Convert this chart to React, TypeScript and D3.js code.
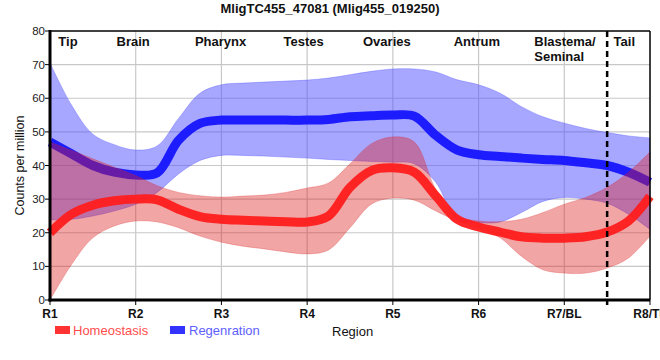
import * as d3 from "d3";

// sample positions along the region axis (0 = R1 ... 7 = R8/TL)
const samplePos = [0, 0.25, 0.5, 0.75, 1, 1.25, 1.5, 1.75, 2, 2.25, 2.5, 2.75, 3, 3.25, 3.5, 3.75, 4, 4.25, 4.5, 4.75, 5, 5.25, 5.5, 5.75, 6, 6.25, 6.5, 6.75, 7];

const regenMean = [47, 43.5, 40, 38, 37.2, 37.8, 47.5, 52.5, 53.5, 53.5, 53.5, 53.5, 53.5, 53.7, 54.5, 54.8, 55, 54.7, 49, 44.6, 43.2, 42.7, 42.2, 41.8, 41.5, 40.8, 40, 38, 35];
const regenUpper = [70.5, 58, 49.3, 46.2, 44.6, 45.8, 54, 61.5, 64, 64.5, 64.8, 65.1, 65.4, 66, 67, 68, 68.7, 68.7, 67.8, 65.5, 64, 61.5, 57.5, 54.5, 52.6, 51, 49.8, 48.8, 48.2];
const regenLower = [23.8, 24, 25, 26.5, 28.5, 32, 37.5, 41.5, 43, 43, 42.8, 42.5, 42.2, 41.8, 41.5, 41.2, 41, 40.5, 35, 24, 23, 23.2, 26, 29.3, 30.5, 30, 28.8, 25.5, 21];

const homeoMean = [20, 25.5, 28.2, 29.5, 30, 29.8, 27, 24.8, 24, 23.7, 23.5, 23.3, 23.2, 25, 33.5, 38.5, 39.3, 38, 31, 24, 21.7, 20.2, 18.8, 18.4, 18.4, 18.8, 20.2, 23.5, 30.8];
const homeoUpper = [47, 44.5, 42, 39.5, 37, 34, 32, 31, 30.6, 30.9, 31.2, 32, 33.3, 34.8, 40.5, 46.5, 48.5, 47, 33, 25, 23.5, 23.3, 24, 26, 28.5, 30.5, 33.5, 38, 44];
const homeoLower = [0, 10.5, 18.5, 22, 23.5, 23.2, 21.5, 19, 17.2, 16, 15.2, 14.3, 13.7, 14.9, 21.5, 28.5, 30.3, 29.7, 26.5, 23.5, 21.4, 18.5, 13, 9, 8, 8, 9.5, 12.5, 19];

const regionTicks = ["R1", "R2", "R3", "R4", "R5", "R6", "R7/BL", "R8/TL"];
const yTicks = [0, 10, 20, 30, 40, 50, 60, 70, 80];
const tissueLabels = [
  { text: ["Tip"], at: 0.21 },
  { text: ["Brain"], at: 0.97 },
  { text: ["Pharynx"], at: 1.99 },
  { text: ["Testes"], at: 2.96 },
  { text: ["Ovaries"], at: 3.93 },
  { text: ["Antrum"], at: 4.98 },
  { text: ["Blastema/", "Seminal"], at: 5.65 },
  { text: ["Tail"], at: 6.7 },
];
const tailBoundary = 6.5;

const W = 660;
const H = 360;
const margin = { top: 31, right: 10, bottom: 60, left: 50 };
const font = "'Liberation Sans', Arial, sans-serif";

export default function App() {
  const x = d3.scaleLinear().domain([0, 7]).range([margin.left, W - margin.right]);
  const y = d3.scaleLinear().domain([0, 80]).range([H - margin.bottom, margin.top]);
  const curve = d3.curveCatmullRom.alpha(0.5);

  const line = d3
    .line<number>()
    .x((_, i) => x(samplePos[i]))
    .y((d) => y(d))
    .curve(curve);

  const band = (lo: number[], hi: number[]) =>
    d3
      .area<number>()
      .x((_, i) => x(samplePos[i]))
      .y0((_, i) => y(lo[i]))
      .y1((_, i) => y(hi[i]))
      .curve(curve)(samplePos);

  const x0 = x(0);
  const x1 = x(7);
  const yBot = y(0);
  const yTop = y(80);

  return (
    <svg width={W} height={H} style={{ position: "absolute", left: 0, top: 0, background: "#fff" }} fontFamily={font}>
      <text x={330} y={13} textAnchor="middle" fontSize={13} fontWeight="bold" fill="#111">
        MligTC455_47081 (Mlig455_019250)
      </text>

      {/* grid */}
      {yTicks.slice(1, -1).map((t) => (
        <line key={"gy" + t} x1={x0} x2={x1} y1={y(t)} y2={y(t)} stroke="#c8c8c8" strokeWidth={1.2} />
      ))}
      {regionTicks.map((_, i) =>
        i > 0 && i < 7 ? (
          <line key={"gx" + i} x1={x(i)} x2={x(i)} y1={yTop} y2={yBot} stroke="#c8c8c8" strokeWidth={1.2} />
        ) : null
      )}

      {/* regeneration */}
      <path d={band(regenLower, regenUpper) ?? ""} fill="rgb(80,80,255)" fillOpacity={0.5} stroke="rgb(80,80,255)" strokeOpacity={0.35} />
      <path d={line(regenMean) ?? ""} fill="none" stroke="#1c1cff" strokeWidth={9} />

      {/* homeostasis */}
      <path d={band(homeoLower, homeoUpper) ?? ""} fill="rgb(220,30,30)" fillOpacity={0.4} stroke="rgb(220,30,30)" strokeOpacity={0.25} />
      <path d={line(homeoMean) ?? ""} fill="none" stroke="#ff1c1c" strokeOpacity={0.95} strokeWidth={9} />

      {/* frame */}
      <line x1={x0} x2={x1} y1={yTop} y2={yTop} stroke="#000" strokeWidth={1.5} />
      <line x1={x1} x2={x1} y1={yTop} y2={yBot} stroke="#000" strokeWidth={1.5} />
      <line x1={x0} x2={x0} y1={yTop - 1} y2={yBot + 1.5} stroke="#000" strokeWidth={3} />
      <line x1={x0 - 1.5} x2={x1} y1={yBot} y2={yBot} stroke="#000" strokeWidth={3} />

      {/* y axis */}
      {yTicks.map((t) => (
        <g key={"yt" + t}>
          <line x1={x0 - 5} x2={x0} y1={y(t)} y2={y(t)} stroke="#000" strokeWidth={1} />
          <text x={x0 - 5} y={y(t) + 4} textAnchor="end" fontSize={11.5} fill="#222">
            {t}
          </text>
        </g>
      ))}
      <text transform={`translate(24,${(yTop + yBot) / 2}) rotate(-90)`} textAnchor="middle" fontSize={12.5} fill="#111">
        Counts per million
      </text>

      {/* x axis */}
      {regionTicks.map((r, i) => (
        <g key={r}>
          <line x1={x(i)} x2={x(i)} y1={yBot} y2={yBot + 5} stroke="#000" strokeWidth={1} />
          <text x={x(i)} y={yBot + 18} textAnchor="middle" fontSize={12} fontWeight="bold" fill="#111">
            {r}
          </text>
        </g>
      ))}

      <line x1={x(tailBoundary)} x2={x(tailBoundary)} y1={yTop} y2={yBot + 5} stroke="#000" strokeWidth={2.5} strokeDasharray="6,4" />

      {/* tissue labels */}
      {tissueLabels.map((l) =>
        l.text.map((t, k) => (
          <text
            key={t}
            x={x(l.at)}
            y={yTop + 15 + k * 15}
            textAnchor={l.text.length > 1 ? "start" : "middle"}
            fontSize={13}
            fontWeight="bold"
            fill="#111"
          >
            {t}
          </text>
        ))
      )}

      {/* legend */}
      <rect x={55} y={326} width={15} height={8} fill="#ff3333" />
      <text x={73} y={335} fontSize={13} fill="#ff4d4d">Homeostasis</text>
      <rect x={170} y={326} width={15} height={8} fill="#3333ff" />
      <text x={189} y={335} fontSize={13} fill="#6060ff">Regenration</text>
      <text x={332} y={336} fontSize={13} fill="#111">Region</text>
    </svg>
  );
}
